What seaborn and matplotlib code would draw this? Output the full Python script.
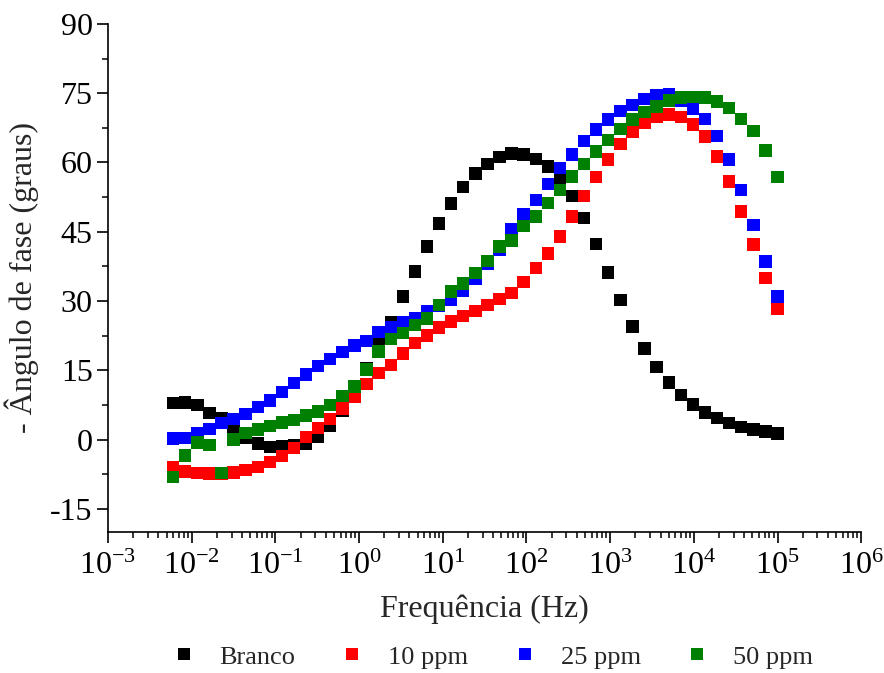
import numpy as np
import pandas as pd
import matplotlib
matplotlib.use("Agg")
import matplotlib.pyplot as plt
import matplotlib.ticker as mticker
import seaborn as sns

# ---- data -------------------------------------------------------------
freq_hz = [0.006, 0.00837, 0.01167, 0.01627, 0.0227, 0.03166, 0.04414, 0.06155,
           0.0858, 0.1197, 0.1669, 0.2328, 0.3246, 0.4527, 0.6313, 0.8805,
           1.228, 1.712, 2.388, 3.330, 4.644, 6.477, 9.033, 12.60, 17.57,
           24.50, 34.17, 47.64, 66.44, 92.66, 129.2, 180.2, 251.3, 350.5,
           488.8, 681.7, 950.4, 1326, 1849, 2578, 3595, 5013, 6993, 9750,
           13597, 18963, 26446, 36877, 51433, 71716, 100000]

branco = [7.9, 8.0, 7.5, 5.8, 4.6, 2.1, 0.5, -0.8, -1.6, -1.5, -1.3, -0.9, 0.6,
          3.0, 6.3, 11.0, 15.5, 20.8, 25.4, 31.0, 36.4, 41.8, 46.8, 51.1, 54.7,
          57.6, 59.7, 61.2, 61.9, 61.7, 60.7, 59.1, 56.3, 52.7, 48.0, 42.4, 36.2,
          30.2, 24.5, 19.7, 15.7, 12.4, 9.7, 7.6, 5.9, 4.7, 3.6, 2.7, 2.2, 1.8, 1.3]

ppm10 = [-6.0, -6.9, -7.2, -7.3, -7.3, -7.1, -6.6, -5.9, -4.8, -3.5, -1.8, 0.6, 2.5,
         4.5, 6.7, 9.2, 12.1, 14.4, 16.2, 18.6, 20.9, 22.5, 24.3, 25.6, 26.7,
         27.9, 29.1, 30.4, 31.8, 34.1, 37.2, 40.3, 44.0, 48.3, 52.7, 56.8, 60.6,
         64.0, 66.7, 68.5, 69.9, 70.4, 69.9, 68.2, 65.6, 61.3, 55.9, 49.4, 42.2,
         35.0, 28.4]

ppm25 = [0.2, 0.4, 1.3, 2.3, 3.6, 4.5, 5.6, 7.1, 8.5, 10.3, 12.3, 14.1, 15.9,
         17.5, 19.0, 20.4, 21.3, 23.3, 24.4, 25.4, 26.2, 27.8, 29.0, 30.2, 32.3,
         34.8, 38.0, 41.0, 45.5, 48.7, 51.9, 55.4, 58.8, 61.7, 64.6, 67.1, 69.3,
         71.1, 72.5, 73.7, 74.6, 74.7, 73.3, 71.6, 69.4, 65.7, 60.6, 54.1, 46.5,
         38.6, 31.0]

ppm50 = [-8.1, -3.4, -0.6, -1.2, -7.2, 0.0, 1.4, 2.2, 2.9, 3.7, 4.3, 5.2, 6.1,
         7.5, 9.4, 11.5, 15.2, 19.1, 21.8, 23.1, 24.8, 26.2, 29.2, 32.1, 33.8,
         36.1, 38.7, 41.8, 43.1, 46.3, 48.3, 51.2, 54.0, 57.0, 59.7, 62.4, 64.9,
         67.2, 69.3, 70.9, 72.1, 73.4, 74.1, 74.2, 74.1, 73.2, 71.8, 69.4, 66.8,
         62.6, 56.9]

series_names = ["Branco", "10 ppm", "25 ppm", "50 ppm"]
series_values = [branco, ppm10, ppm25, ppm50]
colors = ["#000000", "#FF0000", "#0000FF", "#008000"]

x_ticks = [1e-3, 1e-2, 1e-1, 1e0, 1e1, 1e2, 1e3, 1e4, 1e5, 1e6]
x_ticklabels = [r"$10^{-3}$", r"$10^{-2}$", r"$10^{-1}$", r"$10^{0}$", r"$10^{1}$",
                r"$10^{2}$", r"$10^{3}$", r"$10^{4}$", r"$10^{5}$", r"$10^{6}$"]
y_ticks = [-15, 0, 15, 30, 45, 60, 75, 90]

# ---- build long table ---------------------------------------------------
frames = []
for name, vals in zip(series_names, series_values):
    frames.append(pd.DataFrame({"freq": freq_hz, "phase": vals, "amostra": name}))
df = pd.concat(frames, ignore_index=True)

# ---- style --------------------------------------------------------------
sns.set_style("ticks")
plt.rcParams["font.family"] = ["Liberation Serif", "DejaVu Serif"]
plt.rcParams["mathtext.fontset"] = "custom"
plt.rcParams["mathtext.rm"] = "Liberation Serif"
plt.rcParams["mathtext.it"] = "Liberation Serif:italic"
plt.rcParams["axes.unicode_minus"] = False

fig = plt.figure(figsize=(8.84, 6.73), dpi=100)
ax = fig.add_axes([0.1222, 0.2095, 0.852, 0.755])

sns.scatterplot(data=df, x="freq", y="phase", hue="amostra",
                palette=colors, hue_order=series_names,
                marker="s", s=80, linewidth=0, ax=ax, legend=True)

ax.set_xscale("log")
ax.set_xlim(1e-3, 1e6)
ax.set_ylim(-20, 90)

ax.set_xticks(x_ticks)
ax.set_xticklabels(x_ticklabels)
ax.xaxis.set_minor_locator(mticker.LogLocator(base=10, subs=np.arange(2, 10), numticks=100))
ax.xaxis.set_minor_formatter(mticker.NullFormatter())
ax.set_yticks(y_ticks)
ax.yaxis.set_minor_locator(mticker.MultipleLocator(7.5))

for side in ["top", "right"]:
    ax.spines[side].set_visible(False)
for side in ["left", "bottom"]:
    ax.spines[side].set_linewidth(1.2)
    ax.spines[side].set_color("black")

ax.tick_params(axis="both", which="major", direction="out", length=8, width=1.2,
               color="black", labelcolor="black")
ax.tick_params(axis="both", which="minor", direction="out", length=4.5, width=1.1,
               color="black")
ax.tick_params(axis="x", which="major", labelsize=23, pad=6)
ax.tick_params(axis="y", which="major", labelsize=23, pad=3)

ax.set_xlabel("Frequência (Hz)", fontsize=23, labelpad=10)
ax.set_ylabel("- Ângulo de fase (graus)", fontsize=23, labelpad=8)

# legend below plot
handles, labels = ax.get_legend_handles_labels()
ax.legend_.remove()
fig.legend(handles, labels, loc="center", bbox_to_anchor=(0.558, 0.024),
           ncol=4, frameon=False, fontsize=19, handlelength=0.8,
           handletextpad=0.95, columnspacing=1.75, markerscale=0.95)

fig.savefig("out.png", dpi=100)
